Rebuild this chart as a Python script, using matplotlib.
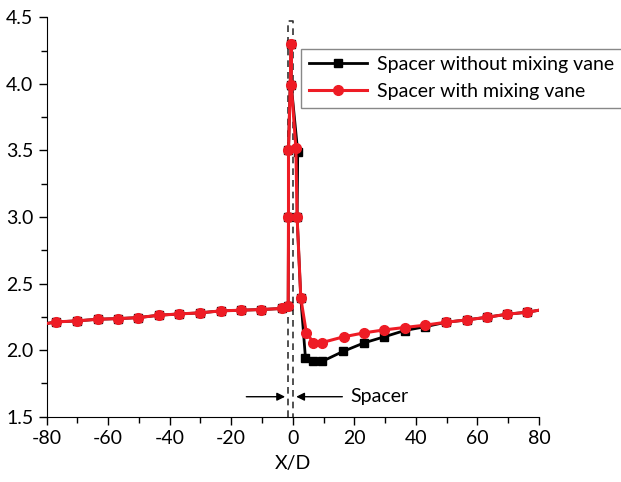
import numpy as np
import matplotlib.pyplot as plt
from matplotlib.ticker import MultipleLocator

plt.rcParams['font.family'] = ['Lato', 'DejaVu Sans']
plt.rcParams['axes.unicode_minus'] = False

# upstream part (same for both cases)
x_up = [-80, -76.8, -70.1, -63.3, -56.7, -50.3, -43.6, -36.9, -30.2, -23.3, -16.8, -10.2, -3.5, -1.5]
y_up = [2.20, 2.212, 2.22, 2.232, 2.237, 2.244, 2.262, 2.272, 2.28, 2.295, 2.30, 2.305, 2.313, 2.33]

# spacer peak
x_peak = [-1.4, -1.4, -0.5, -0.5]
y_peak = [3.00, 3.50, 4.30, 3.99]

# downstream, without mixing vane
x_dn_black = [1.6, 1.4, 2.6, 4.1, 6.6, 9.5, 16.3, 23.2, 29.7, 36.3, 42.8, 49.9, 56.5, 63.1, 69.7, 76.2, 80]
y_dn_black = [3.49, 3.00, 2.39, 1.944, 1.915, 1.915, 1.99, 2.055, 2.10, 2.147, 2.175, 2.21, 2.227, 2.247, 2.27, 2.285, 2.30]

# downstream, with mixing vane
x_dn_red = [1.0, 1.4, 2.6, 4.4, 6.7, 9.5, 16.5, 23.2, 29.7, 36.3, 42.8, 49.9, 56.5, 63.1, 69.7, 76.2, 80]
y_dn_red = [3.52, 3.00, 2.39, 2.13, 2.057, 2.057, 2.10, 2.13, 2.152, 2.17, 2.187, 2.21, 2.227, 2.247, 2.27, 2.285, 2.30]

x_black = x_up + x_peak + x_dn_black
y_black = y_up + y_peak + y_dn_black
x_red = x_up + x_peak + x_dn_red
y_red = y_up + y_peak + y_dn_red

red = '#ee1c25'

fig = plt.figure(figsize=(6.21, 4.82), dpi=100)
ax = fig.add_axes([0.075, 0.1355, 0.793, 0.8285])

ax.plot(x_black, y_black, color='black', lw=2, marker='s', ms=6,
        markevery=slice(1, -1), label='Spacer without mixing vane', zorder=3)
ax.plot(x_red, y_red, color=red, lw=2.2, marker='o', ms=7,
        markevery=slice(1, -1), label='Spacer with mixing vane', zorder=4)

# spacer region
ax.plot([-1.5, -1.5, 0, 0], [1.5, 4.47, 4.47, 1.5], color='#333333', ls=(0, (4, 3)),
        lw=1.2, zorder=2)
ax.annotate('', xy=(-1.6, 1.65), xytext=(-16, 1.65),
            arrowprops=dict(arrowstyle='-|>', color='black', lw=1, mutation_scale=12))
ax.annotate('', xy=(0.2, 1.65), xytext=(17, 1.65),
            arrowprops=dict(arrowstyle='-|>', color='black', lw=1, mutation_scale=12))
ax.text(18.8, 1.65, 'Spacer', fontsize=14, va='center', ha='left')

ax.set_xlim(-80, 80)
ax.set_ylim(1.5, 4.5)
ax.xaxis.set_major_locator(MultipleLocator(20))
ax.xaxis.set_minor_locator(MultipleLocator(10))
ax.yaxis.set_major_locator(MultipleLocator(0.5))
ax.yaxis.set_minor_locator(MultipleLocator(0.25))
ax.yaxis.set_major_formatter(plt.FormatStrFormatter('%.1f'))
ax.tick_params(which='both', direction='out', labelsize=14, width=1)
ax.tick_params(which='major', length=6)
ax.tick_params(which='minor', length=4)
ax.spines['top'].set_visible(False)
ax.spines['right'].set_visible(False)
ax.set_xlabel('X/D', fontsize=14, labelpad=6)

leg = ax.legend(loc='upper left', bbox_to_anchor=(0.5166, 0.922), fontsize=14,
                handlelength=3.0, fancybox=False, edgecolor='#888888',
                borderaxespad=0, framealpha=1, handletextpad=0.5)
leg.get_frame().set_linewidth(1)

fig.savefig('out.png', dpi=100)
